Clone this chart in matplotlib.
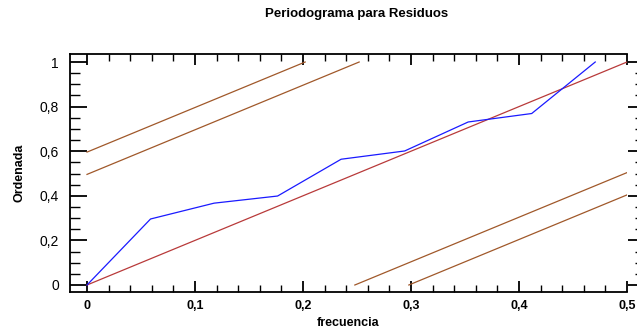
import matplotlib
matplotlib.use("Agg")
import matplotlib.pyplot as plt
from matplotlib.ticker import MultipleLocator, FixedLocator

plt.rcParams['font.family'] = ['Liberation Sans', 'DejaVu Sans']

# Data
freq = [0, 1/17, 2/17, 3/17, 4/17, 5/17, 6/17, 7/17, 8/17]
ordenada = [0, 0.296, 0.367, 0.399, 0.564, 0.601, 0.731, 0.769, 1.0]
diag_x = [0, 0.5]
diag_y = [0, 1]
upper1_x = [0, 0.202]
upper1_y = [0.596, 1.0]
upper2_x = [0, 0.252]
upper2_y = [0.496, 1.0]
lower1_x = [0.248, 0.5]
lower1_y = [0.0, 0.504]
lower2_x = [0.298, 0.5]
lower2_y = [0.0, 0.404]
xticks = [0, 0.1, 0.2, 0.3, 0.4, 0.5]
xticklabels = ["0", "0,1", "0,2", "0,3", "0,4", "0,5"]
yticks = [0, 0.2, 0.4, 0.6, 0.8, 1.0]
yticklabels = ["0", "0,2", "0,4", "0,6", "0,8", "1"]

fig = plt.figure(figsize=(6.37, 3.32), dpi=100)
ax = fig.add_axes([70/637, 40/332, 557/637, 238/332])

brown = '#a0582a'
ax.plot(upper1_x, upper1_y, color=brown, lw=0.9)
ax.plot(upper2_x, upper2_y, color=brown, lw=0.9)
ax.plot(lower1_x, lower1_y, color=brown, lw=0.9)
ax.plot(lower2_x, lower2_y, color=brown, lw=0.9)
ax.plot(diag_x, diag_y, color='#b83a3a', lw=0.9)
ax.plot(freq, ordenada, color='#1a1aff', lw=0.9)

ax.set_xlim(-0.01575, 0.5)
ax.set_ylim(-0.0314, 1.0359)

ax.xaxis.set_major_locator(FixedLocator(xticks))
ax.set_xticklabels(xticklabels, fontweight='bold', fontsize=9)
ax.yaxis.set_major_locator(FixedLocator(yticks))
ax.set_yticklabels(yticklabels, fontweight='bold', fontsize=9)
ax.xaxis.set_minor_locator(MultipleLocator(0.02))
ax.yaxis.set_minor_locator(MultipleLocator(0.05))

ax.spines['right'].set_position(('outward', 13))
ax.spines['right'].set_color('none')
for s in ['left', 'bottom', 'top']:
    ax.spines[s].set_linewidth(1.3)

ax.tick_params(axis='y', which='major', direction='in', length=12, width=1.3, left=True, right=True, pad=8)
ax.tick_params(axis='y', which='minor', direction='in', length=7, width=1.0, left=True, right=True)
ax.tick_params(axis='x', which='major', direction='in', length=8, width=1.3, top=True, bottom=True, pad=6)
ax.tick_params(axis='x', which='minor', direction='in', length=5, width=1.0, top=True, bottom=True)

ax.set_xlabel('frecuencia', fontweight='bold', fontsize=9, labelpad=3)
ax.set_ylabel('Ordenada', fontweight='bold', fontsize=9, labelpad=10)
fig.text(357/637, 1 - 14/332, 'Periodograma para Residuos', ha='center', va='center',
         fontweight='bold', fontsize=9.5)

fig.savefig('out.png', dpi=100)
